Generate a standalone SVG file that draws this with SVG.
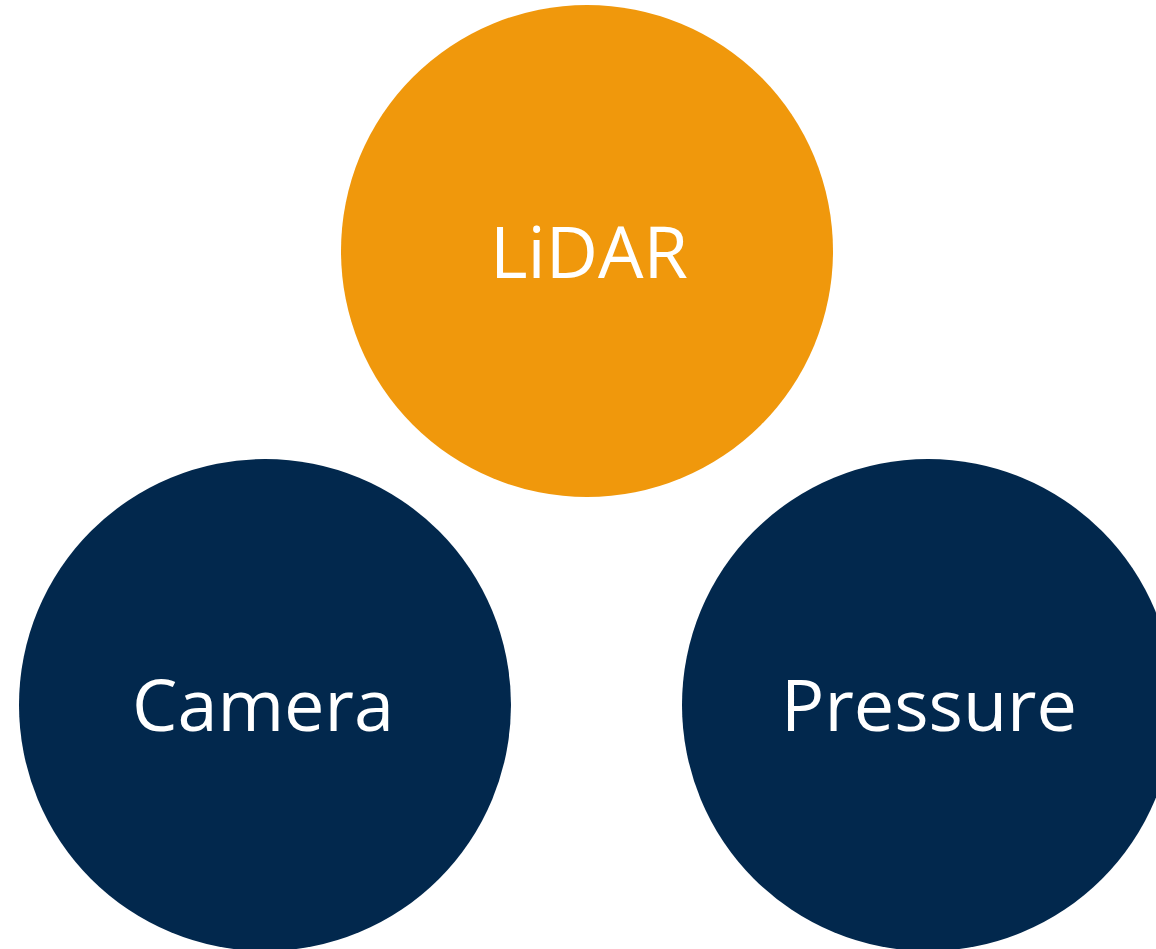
<svg xmlns="http://www.w3.org/2000/svg" width="1156" height="949" viewBox="0 0 1156 949">
<style>
.lbl{font-family:"Open Sans","Noto Sans",sans-serif;font-size:72px;fill:#ffffff;text-anchor:middle}
.navy{fill:#02284D}
.orange{fill:#F0980C}
</style>
<rect width="1156" height="949" fill="#ffffff"/>
<g id="lidar"><circle class="orange" cx="587" cy="251" r="246"/><text class="lbl" x="589" y="278">LiDAR</text></g>
<g id="camera"><circle class="navy" cx="265" cy="705" r="246"/><text class="lbl" x="263" y="731">Camera</text></g>
<g id="pressure"><circle class="navy" cx="928" cy="705" r="246"/><text class="lbl" x="929" y="731">Pressure</text></g>
<g id="connectors"></g>
</svg>
